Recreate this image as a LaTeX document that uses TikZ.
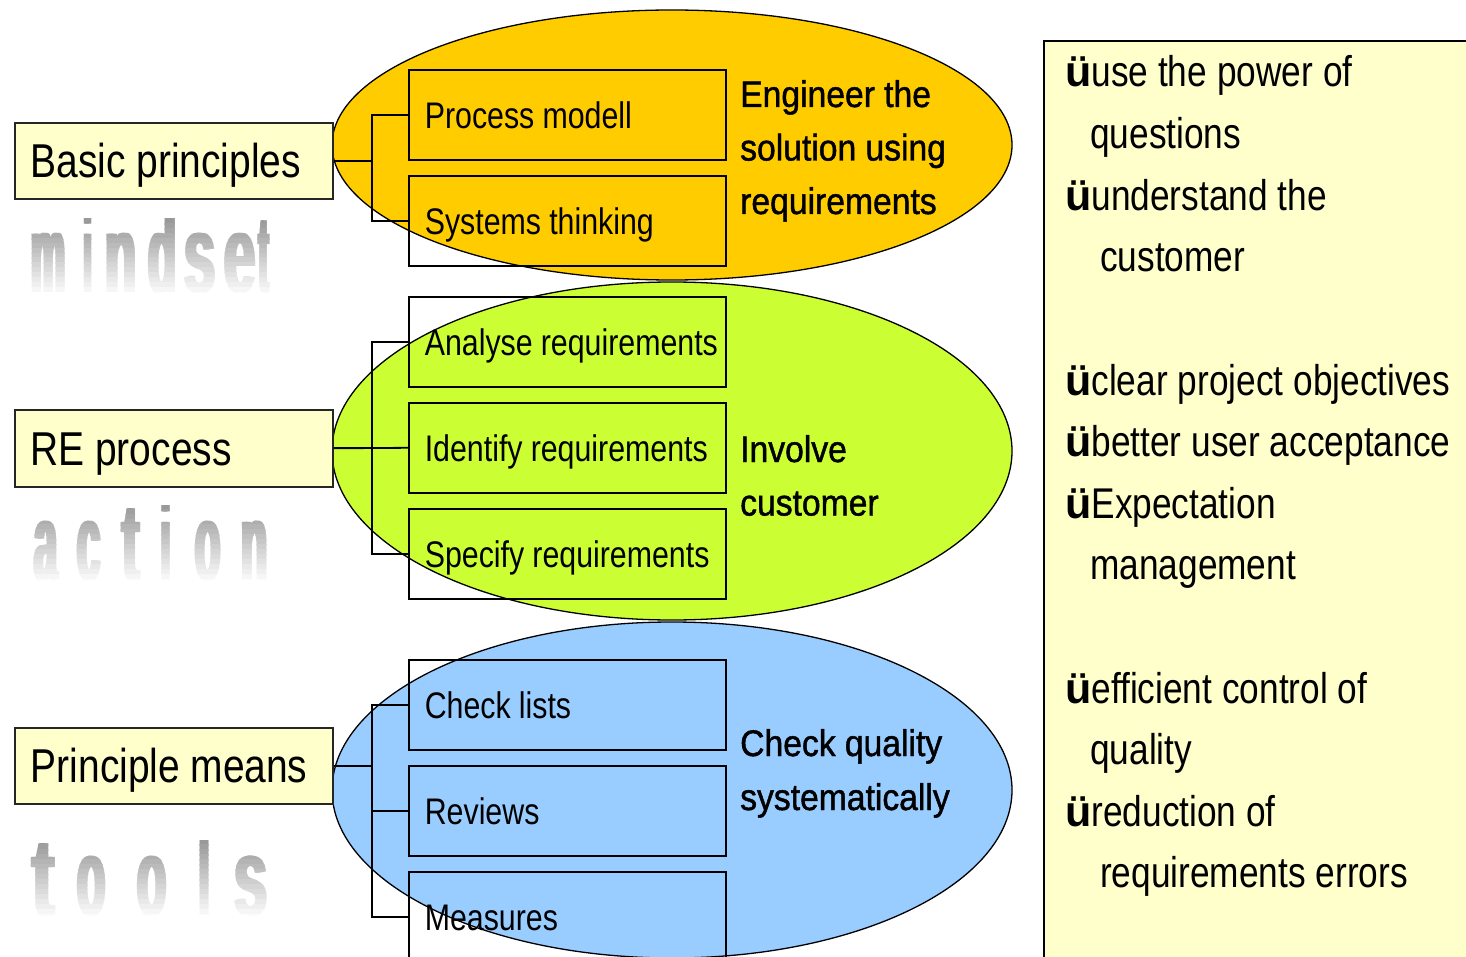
\documentclass[tikz,border=0pt]{standalone}
\usepackage{fontspec}
\setmainfont{Liberation Sans}[FakeStretch=0.82]
\newfontfamily\chkfont{Liberation Sans}
\newfontfamily\bigfont{Liberation Sans}
\newfontfamily\ellfont{Liberation Sans}[FakeStretch=0.91, FakeBold=1.2]
\usepackage{graphicx}
\usetikzlibrary{shapes.geometric}
\definecolor{cCream}{HTML}{FFFFCC}
\definecolor{cOrange}{HTML}{FFCC00}
\definecolor{cLime}{HTML}{CCFF33}
\definecolor{cSky}{HTML}{99CCFF}
\newcommand\ck{{\chkfont\bfseries ü}}
\newcommand\tightsp[1]{\spaceskip=#1\relax}
\newcommand\lft[2]{\makebox[#1][l]{#2}}
\begin{document}
\begin{tikzpicture}[x=1pt,y=-1pt,
  lab/.style={draw=black!85, line width=1.6pt, fill=cCream, anchor=north west,
    inner xsep=16pt,
    font={\fontsize{47.5}{50}\selectfont\tightsp{0.22em}}, text height=34pt, text depth=0pt},
  subbox/.style={draw, line width=1.6pt, anchor=north west,
    minimum height=90pt, inner xsep=16pt,
    font={\fontsize{37}{40}\selectfont\tightsp{0.22em}}, text height=28pt, text depth=0pt},
  ellbox/.style={ellipse, draw, line width=1.3pt, inner sep=0pt, minimum width=680pt},
  elltext/.style={anchor=base west, inner sep=0pt, font={\ellfont\fontsize{37}{40}\selectfont\tightsp{0.25em}}},
  rtext/.style={anchor=base west, inner sep=0pt, font={\fontsize{43}{45}\selectfont\tightsp{0.23em}}},
  conn/.style={line width=1.8pt},
  gletter/.style={anchor=base west, inner sep=0pt, font={\bigfont\bfseries\fontsize{110}{110}\selectfont}}
]
\useasboundingbox (0,0) rectangle (1466,957);

% gradient words (emboldened by offset copies)
\foreach \wbase/\wtop/\letters in {
  293/219/{m/29/38,i/82/11,n/103/35,d/146/32,s/182/35,e/222/35,t/257/13},
  580/505/{a/32/27,c/75/27,t/120/21,i/159/13,o/193/29,n/239/30},
  915/840/{t/30/26,o/75/32,o/135/33,l/197/14,s/232/37}} {
  \foreach \k in {0,...,15} {
    \pgfmathsetmacro\ya{\wtop+\k*(\wbase+4-\wtop)/16}
    \pgfmathsetmacro\yb{\ya+(\wbase+4-\wtop)/16+0.6}
    \pgfmathsetmacro\pc{max(0,40*(\wbase+1-\ya)/(\wbase+1-\wtop))}
    \begin{scope}
      \clip (10,\ya) rectangle (300,\yb);
      \foreach \l/\lx/\lw in \letters {
        \pgfmathsetmacro\lwr{\lw-3.9}
        \foreach \off in {0,1.3,2.6,3.9} {
          \node[gletter, text=black!\pc] (gl) at (\lx+\off,\wbase) {\resizebox{\lwr pt}{\height}{\l}};
        }
      }
    \end{scope}
  }
}

% ellipses
\node[ellbox, fill=cOrange, minimum height=270pt] (ey) at (672,145) {};
\node[ellbox, fill=cLime, minimum height=338pt] (eg) at (672,451) {};
\node[ellbox, fill=cSky, minimum height=336pt] (eb) at (672,790) {};

% ellipse texts
\node[elltext] (t1) at (740,107) {Engineer the};
\node[elltext] (t2) at (740,160.5) {solution using};
\node[elltext] (t3) at (740,214) {requirements};
\node[elltext] (t4) at (740,462) {Involve};
\node[elltext] (t5) at (740,515.5) {customer};
\node[elltext] (t6) at (740,756) {Check quality};
\node[elltext] (t7) at (740,810) {systematically};

% sub boxes
\node[subbox] (pmod) at (408,69) {\lft{285pt}{Process modell}};
\node[subbox] (syst) at (408,175) {\lft{285pt}{Systems thinking}};
\node[subbox] (anal) at (408,296) {\lft{285pt}{Analyse requirements}};
\node[subbox] (iden) at (408,402) {\lft{285pt}{Identify requirements}};
\node[subbox] (spec) at (408,508) {\lft{285pt}{Specify requirements}};
\node[subbox] (chkl) at (408,659) {\lft{285pt}{Check lists}};
\node[subbox] (revw) at (408,765) {\lft{285pt}{Reviews}};
\node[subbox] (meas) at (408,871) {\lft{285pt}{Measures}};

% label boxes
\node[lab, minimum height=76pt] (bp) at (14,122) {\lft{286pt}{Basic principles}};
\node[lab, minimum height=77pt] (rep) at (14,409) {\lft{286pt}{RE process}};
\node[lab, minimum height=76pt] (prm) at (14,727) {\lft{286pt}{Principle means}};

% brackets
\draw[conn] (bp.east) -- ++(38,0) |- (pmod.west);
\draw[conn] (bp.east) -- ++(38,0) |- (syst.west);
\draw[conn] (rep.east) -- ++(38,0) |- (anal.west);
\draw[conn] (rep.east) -- (iden.west);
\draw[conn] (rep.east) -- ++(38,0) |- (spec.west);
\draw[conn] (prm.east) -- ++(38,0) |- (chkl.west);
\draw[conn] (prm.east) -- ++(38,0) |- (revw.west);
\draw[conn] (prm.east) -- ++(38,0) |- (meas.west);

% right box
\node[draw, line width=2pt, fill=cCream, anchor=north west, minimum width=440pt,
      minimum height=940pt, inner sep=0pt] (rb) at (1043,40) {};
\foreach \rx/\ry/\rt [count=\ri] in {
  1065/87/{\ck use the power of},
  1090/148.6/{questions},
  1065/210.2/{\ck understand the},
  1100/271.8/{customer},
  1065/395/{\ck clear project objectives},
  1065/456.6/{\ck better user acceptance},
  1065/518.2/{\ck Expectation},
  1090/579.8/{management},
  1065/703/{\ck efficient control of},
  1090/764.6/{quality},
  1065/826.2/{\ck reduction of},
  1100/887.8/{requirements errors}} {
  \node[rtext] (r\ri) at (\rx,\ry) {\rt};
}
\end{tikzpicture}
\end{document}
